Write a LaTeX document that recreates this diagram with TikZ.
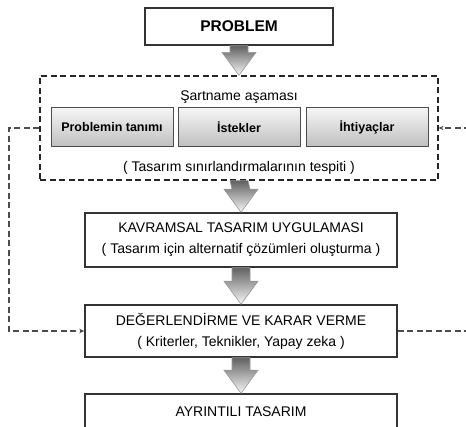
\documentclass[tikz,border=0pt]{standalone}
\usepackage{fontspec}
\setmainfont{Liberation Sans}
\usetikzlibrary{arrows.meta,calc}

\tikzset{
  mainbox/.style={draw=black!80, line width=1.5pt, fill=white, minimum width=312pt, align=center, font=\fontsize{14}{21}\selectfont},
  subbox/.style={draw=black!70, line width=1pt, top color=gray!8, bottom color=gray!50, minimum width=122pt, minimum height=39pt, font=\fontsize{12.5}{15}\selectfont\bfseries},
  specbox/.style={draw=black!85, line width=1.2pt, dash pattern=on 6pt off 3.5pt, minimum width=398pt, minimum height=104pt},
  fb/.style={draw=black!70, line width=1.2pt, dash pattern=on 6pt off 3.5pt},
  blockarr/.style={top color=black!62, bottom color=black!3, draw=gray!80, line width=0.6pt},
  txt/.style={font=\fontsize{14}{17}\selectfont},
}
\newcommand{\blockarrow}[2]{%
  \path[blockarr] ($(#1.south)+(-9,0)$) -- ($(#1.south)+(9,0)$) -- ($(#2.north)+(9,-23)$) -- ($(#2.north)+(17,-23)$) -- (#2.north) -- ($(#2.north)+(-17,-23)$) -- ($(#2.north)+(-9,-23)$) -- cycle;}

\begin{document}
\begin{tikzpicture}[x=1pt,y=-1pt]
  \useasboundingbox (0,0) rectangle (466,427);
  \clip (0,0) rectangle (466,427);

  \node[mainbox, minimum width=188pt, minimum height=37pt, font=\fontsize{15.5}{18}\selectfont\bfseries] (problem) at (239,26.5) {PROBLEM};

  \node[specbox] (spec) at (239,128) {};
  \node[txt] (sartname) at (239,97) {Şartname aşaması};
  \node[subbox] (tanim) at (112,127.5) {Problemin tanımı};
  \node[subbox] (istek) at (239,127.5) {İstekler};
  \node[subbox] (ihtiyac) at (367,127.5) {İhtiyaçlar};
  \node[txt] (sinir) at (239,168) {( Tasarım sınırlandırmalarının tespiti )};

  \node[mainbox, minimum height=54pt] (kavram) at (241,240) {KAVRAMSAL TASARIM UYGULAMASI\\( Tasarım için alternatif çözümleri oluşturma )};
  \node[mainbox, minimum height=52pt] (deger) at (241,331) {DEĞERLENDİRME VE KARAR VERME\\( Kriterler, Teknikler, Yapay zeka )};
  \node[mainbox, minimum height=36pt] (ayrinti) at (241,412) {AYRINTILI TASARIM};

  \blockarrow{problem}{spec}
  \blockarrow{spec}{kavram}
  \blockarrow{kavram}{deger}
  \blockarrow{deger}{ayrinti}

  % geri besleme
  \coordinate (lft) at (9,128);
  \coordinate (rgtup) at (470,128);
  \coordinate (rgtlow) at (470,331);
  \draw[fb, -{Stealth[length=5pt,width=4.5pt]}] (spec.west) -- (lft) |- (deger.west);
  \draw[fb] (deger.east) -- (rgtlow);
  \draw[fb, -{Stealth[length=5pt,width=4.5pt]}] (rgtup) -- (spec.east);
\end{tikzpicture}
\end{document}
